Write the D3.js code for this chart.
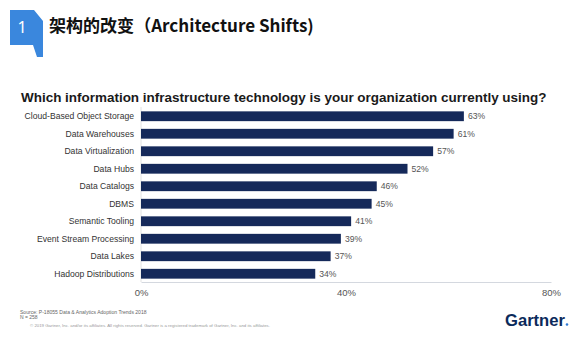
<!DOCTYPE html>
<html><head><meta charset="utf-8">
<script src="https://cdn.jsdelivr.net/npm/d3@7"></script>
<style>body{margin:0;background:#fff}svg{display:block}</style>
</head><body>
<script>
const categories = ["Cloud-Based Object Storage","Data Warehouses","Data Virtualization","Data Hubs","Data Catalogs","DBMS","Semantic Tooling","Event Stream Processing","Data Lakes","Hadoop Distributions"];
const values = [63,61,57,52,46,45,41,39,37,34];
const tickValues = [0,40,80];
const headerNumber = "1";
const headerText = "架构的改变（Architecture Shifts)";
const chartTitle = "Which information infrastructure technology is your organization currently using?";
const sourceText = "Source: P-18055 Data & Analytics Adoption Trends 2018";
const nText = "N = 258";
const copyrightText = "© 2019 Gartner, Inc. and/or its affiliates. All rights reserved. Gartner is a registered trademark of Gartner, Inc. and its affiliates.";

const W = 588, H = 338;
const svg = d3.select("body").append("svg").attr("width", W).attr("height", H);

function fit(sel, w) {
  const n = sel.node(); const l = n.getComputedTextLength();
  const fs = parseFloat(sel.attr("font-size"));
  sel.attr("font-size", fs * w / l);
}

// header badge
svg.append("polygon")
  .attr("points", "10,10 34,10 43,21 43,57 37,57 33,45 10,45")
  .attr("fill", "#3a87dd");
svg.append("text").attr("x", 22).attr("y", 32.5).attr("text-anchor", "middle")
  .attr("fill", "#fff").attr("font-family", "'Noto Sans', Arial, sans-serif")
  .attr("font-size", 16).text(headerNumber);
const ht = svg.append("text").attr("x", 49).attr("y", 32)
  .attr("font-family", "'Noto Sans CJK SC', sans-serif").attr("font-weight", "bold")
  .attr("font-size", 16).attr("fill", "#111").text(headerText);
fit(ht, 265);

// chart title
const tt = svg.append("text").attr("x", 21).attr("y", 102)
  .attr("font-family", "'Liberation Sans', Arial, sans-serif").attr("font-weight", "bold")
  .attr("font-size", 14).attr("fill", "#1a1a1a").text(chartTitle);
fit(tt, 526);

// scales
const x = d3.scaleLinear().domain([0, 80]).range([141, 551]);
const y = d3.scaleBand().domain(categories).range([107.5, 282.5]).paddingInner(0.44).paddingOuter(0.22);

// axis lines
svg.append("line").attr("x1", x(0)).attr("x2", x(0)).attr("y1", 107).attr("y2", 282)
  .attr("stroke", "#e2e2e2").attr("stroke-width", 1);
const xAxis = svg.append("g").attr("transform", "translate(0,282)")
  .call(d3.axisBottom(x).tickValues(tickValues).tickFormat(d => d + "%").tickSize(0).tickPadding(7));
xAxis.select(".domain").attr("stroke", "#d4d8df");
xAxis.selectAll("text").attr("font-family", "'Liberation Sans', Arial, sans-serif")
  .attr("font-size", 9.5).attr("fill", "#555");

// bars
const data = categories.map((c, i) => ({c, v: values[i]}));
svg.append("g").selectAll("rect").data(data).join("rect")
  .attr("x", x(0)).attr("y", d => y(d.c)).attr("width", d => x(d.v) - x(0))
  .attr("height", y.bandwidth()).attr("fill", "#15295a");

// category labels
const yAxis = svg.append("g").attr("transform", "translate(141,0)")
  .call(d3.axisLeft(y).tickSize(0).tickPadding(7));
yAxis.select(".domain").remove();
yAxis.selectAll("text").attr("font-family", "'Liberation Sans', Arial, sans-serif")
  .attr("font-size", 8.6).attr("fill", "#333");

// value labels
svg.append("g").selectAll("text").data(data).join("text")
  .attr("x", d => x(d.v) + 4).attr("y", d => y(d.c) + y.bandwidth() / 2).attr("dy", "0.35em")
  .attr("font-family", "'Liberation Sans', Arial, sans-serif").attr("font-size", 8.6)
  .attr("fill", "#555").text(d => d.v + "%");

// footer
svg.append("text").attr("x", 20).attr("y", 313.5).attr("font-family", "'Liberation Sans', Arial, sans-serif")
  .attr("font-size", 5).attr("fill", "#666").text(sourceText).call(s => fit(s, 127));
svg.append("text").attr("x", 20).attr("y", 318.5).attr("font-family", "'Liberation Sans', Arial, sans-serif")
  .attr("font-size", 5).attr("fill", "#666").text(nText);
svg.append("text").attr("x", 30).attr("y", 326.5).attr("font-family", "'Liberation Sans', Arial, sans-serif")
  .attr("font-size", 4.5).attr("fill", "#999").text(copyrightText).call(s => fit(s, 241));

const g = svg.append("text").attr("x", 505).attr("y", 326)
  .attr("font-family", "'Liberation Sans', Arial, sans-serif").attr("font-weight", "bold")
  .attr("font-size", 17).attr("fill", "#0b2a5b").text("Gartner");
fit(g, 60);
svg.append("circle").attr("cx", 567).attr("cy", 324.5).attr("r", 1.3).attr("fill", "#2f7bd6");
</script>
</body></html>
